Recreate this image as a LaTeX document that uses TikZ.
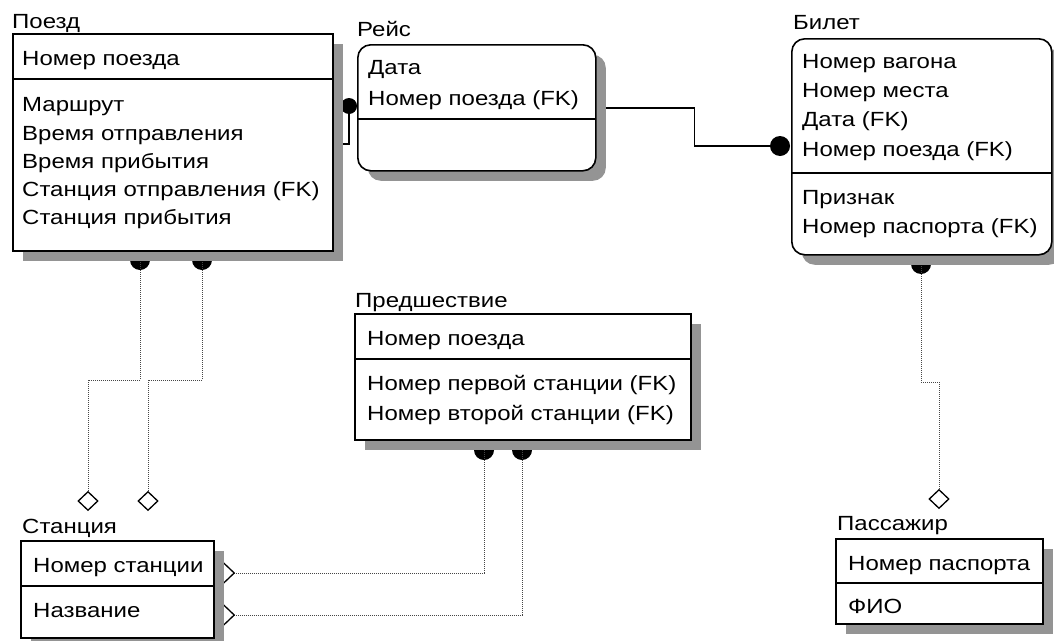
\documentclass[tikz,border=0pt]{standalone}
\usepackage{fontspec}
\setmainfont{Liberation Sans}[FakeStretch=1.17]
\usetikzlibrary{shadows,shapes.geometric}

\definecolor{shadowgray}{RGB}{148,148,148}
\definecolor{dotline}{RGB}{70,70,70}

\pgfdeclarelayer{back}
\pgfsetlayers{back,main}

\tikzset{
  ent/.style={draw, line width=1.6pt, fill=white, anchor=north west, inner sep=0pt,
    drop shadow={shadow xshift=10pt, shadow yshift=-10pt, fill=shadowgray, opacity=1}},
  dep/.style={ent, rounded corners=13pt},
  div/.style={line width=1.4pt},
  fld/.style={anchor=base west, inner sep=0pt, font=\fontsize{20.5}{24}\selectfont},
  rel/.style={line width=1.5pt},
  nonid/.style={line width=1pt, dash pattern=on 1pt off 1pt, dotline},
  blob/.style={circle, fill=black, inner sep=0pt, minimum size=#1},
  blob/.default=20pt,
  opt/.style={diamond, draw, line width=1.3pt, fill=white, inner sep=0pt,
    minimum width=20pt, minimum height=19pt}
}

\begin{document}
\begin{tikzpicture}[x=1pt, y=-1pt]
\useasboundingbox (0,0) rectangle (1054,640);

% --- entities
\node[ent, minimum width=320pt, minimum height=217pt] (poezd) at (12,33) {};
\node[dep, minimum width=238pt, minimum height=126pt] (reis) at (357,44) {};
\node[dep, minimum width=260pt, minimum height=216pt] (bilet) at (791,38) {};
\node[ent, minimum width=336pt, minimum height=126pt] (pred) at (354,313) {};
\node[ent, minimum width=193pt, minimum height=97pt] (stan) at (20,540) {};
\node[ent, minimum width=207pt, minimum height=85pt] (pass) at (835,538) {};

% --- relationships, kept below the entities and their shadows
\begin{pgfonlayer}{back}
\node[blob=16pt] (dA) at (349,106) {};
\node[blob] (dB) at (780,146) {};
\node[blob] (dC) at (140,260) {};
\node[blob] (dD) at (202,260) {};
\node[blob] (dE) at (484,450) {};
\node[blob] (dF) at (522,450) {};
\node[blob] (dG) at (921,264) {};

\draw[rel] (poezd.east) ++(0,1.5) -| (dA.center);
\draw[rel] (reis.east) -- ++(98,0) |- (dB.center);
\draw[nonid] (dC.center) -- ++(0,120) -| (88,491);
\draw[nonid] (dD.center) -- ++(0,120) -| (148,491);
\draw[nonid] (dE.center) |- (234,573);
\draw[nonid] (dF.center) |- (234,615);
\draw[nonid] (dG.center) -- ++(0,118) -| (939,489);

\node[opt, minimum width=21pt, minimum height=20pt] (mC) at (224,573) {};
\node[opt, minimum width=21pt, minimum height=20pt] (mD) at (224,615) {};
\end{pgfonlayer}

\node[opt] (mA) at (88,501) {};
\node[opt] (mB) at (148,501) {};
\node[opt] (mE) at (939,499) {};

% --- key / non-key separators
\draw[div] (poezd.north west) ++(0,46) -- ++(320,0);
\draw[div] (reis.north west) ++(0,75) -- ++(238,0);
\draw[div] (bilet.north west) ++(0,135) -- ++(260,0);
\draw[div] (pred.north west) ++(0,46) -- ++(336,0);
\draw[div] (stan.north west) ++(0,46) -- ++(193,0);
\draw[div] (pass.north west) ++(0,45) -- ++(207,0);

% --- Поезд
\node[fld] (tPoezd) at (12,28) {Поезд};
\node[fld] (p0) at (22,65) {Номер поезда};
\node[fld] (p1) at (22,111.5) {Маршрут};
\node[fld] (p2) at (22,140) {Время отправления};
\node[fld] (p3) at (22,168.3) {Время прибытия};
\node[fld] (p4) at (22,196.6) {Станция отправления (FK)};
\node[fld] (p5) at (22,224.9) {Станция прибытия};

% --- Рейс
\node[fld] (tReis) at (357,36) {Рейс};
\node[fld] (r0) at (368,74.3) {Дата};
\node[fld] (r1) at (368,105) {Номер поезда (FK)};

% --- Билет
\node[fld] (tBilet) at (793,29) {Билет};
\node[fld] (b0) at (802,68.3) {Номер вагона};
\node[fld] (b1) at (802,97.5) {Номер места};
\node[fld] (b2) at (802,126.5) {Дата (FK)};
\node[fld] (b3) at (802,156.3) {Номер поезда (FK)};
\node[fld] (b4) at (802,204) {Признак};
\node[fld] (b5) at (802,233) {Номер паспорта (FK)};

% --- Предшествие
\node[fld] (tPred) at (355,307) {Предшествие};
\node[fld] (s0) at (367,345) {Номер поезда};
\node[fld] (s1) at (367,390.5) {Номер первой станции (FK)};
\node[fld] (s2) at (367,420) {Номер второй станции (FK)};

% --- Станция
\node[fld] (tStan) at (22,533) {Станция};
\node[fld] (c0) at (33,572) {Номер станции};
\node[fld] (c1) at (33,617) {Название};

% --- Пассажир
\node[fld] (tPass) at (837,530) {Пассажир};
\node[fld] (q0) at (848,570) {Номер паспорта};
\node[fld] (q1) at (848,613) {ФИО};
\end{tikzpicture}
\end{document}
